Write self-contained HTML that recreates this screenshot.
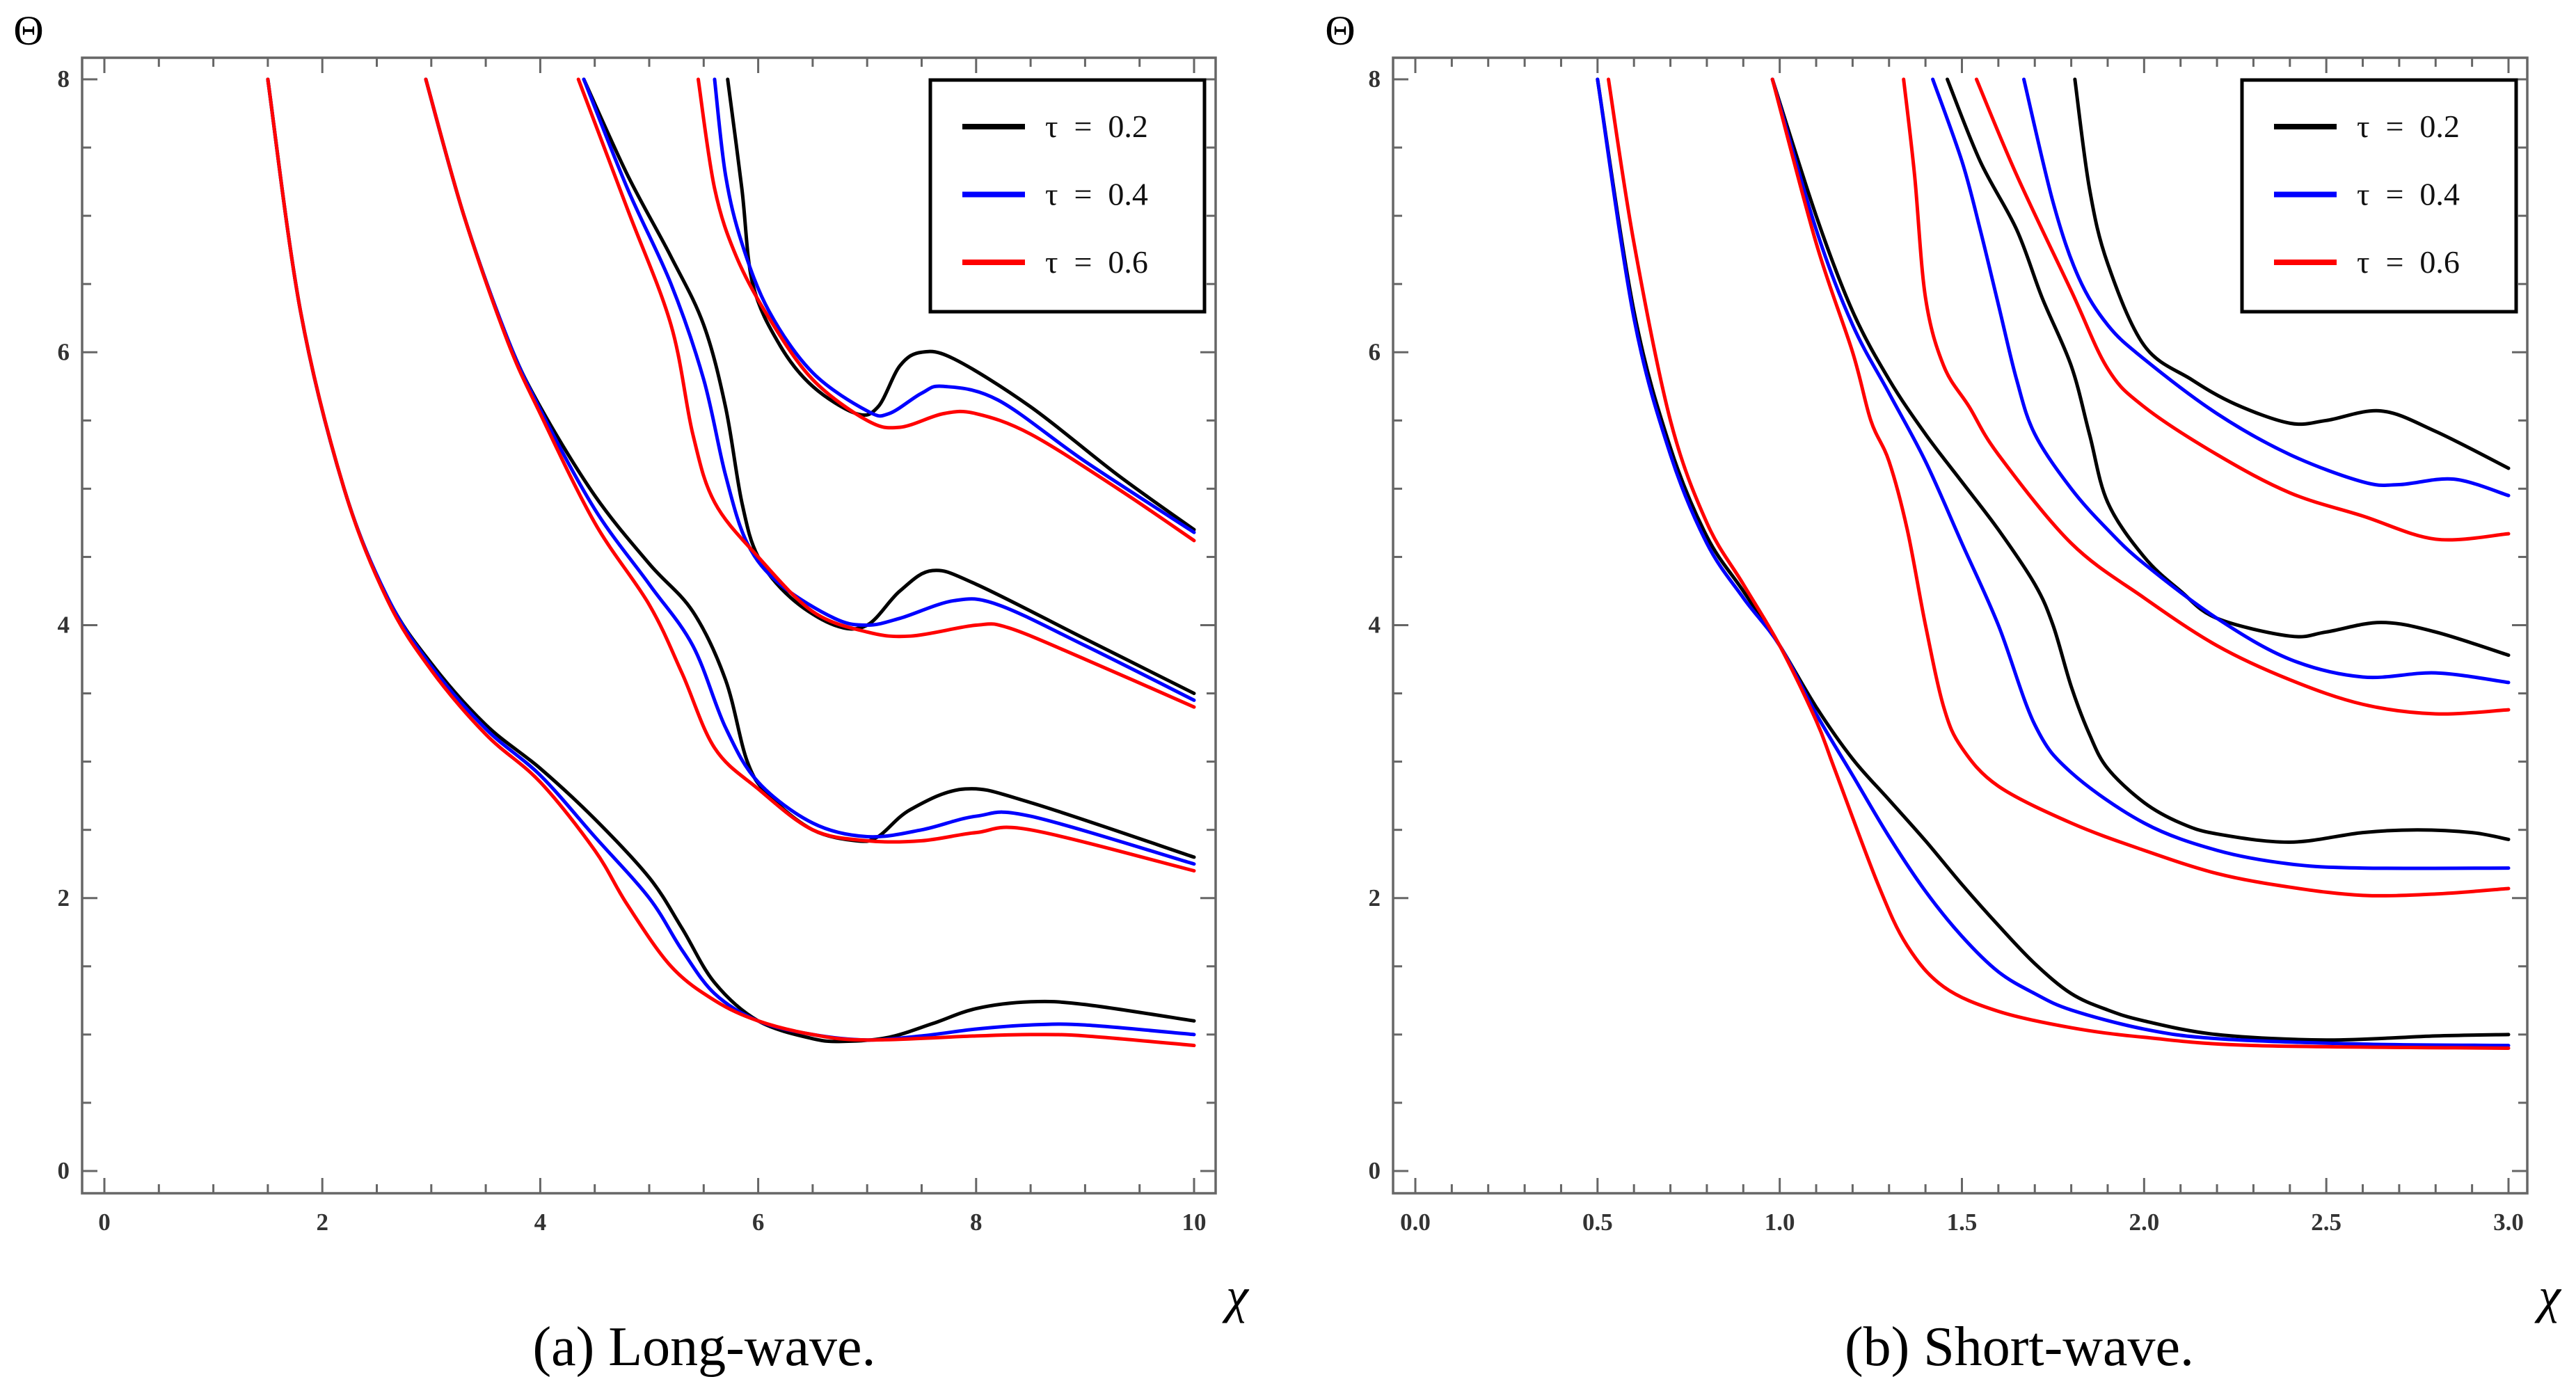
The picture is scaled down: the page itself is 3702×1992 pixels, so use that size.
<!DOCTYPE html>
<html><head><meta charset="utf-8"><style>
html,body{margin:0;padding:0;background:#fff;}
svg{display:block;}
text{font-family:"Liberation Serif","DejaVu Serif",serif;}
.pre{white-space:pre;}
</style></head><body>
<svg id="fig" width="3702" height="1992" viewBox="0 0 3702 1992" xmlns="http://www.w3.org/2000/svg"></svg>
<script>
// ---- Data (a) Long-wave ----
const tauLabels = ["τ  =  0.2","τ  =  0.4","τ  =  0.6"];
const colors = ["#000000","#0000ff","#ff0000"];
const longXTicks = [0,2,4,6,8,10];
const shortXTicks = [0,0.5,1,1.5,2,2.5,3];
const yTicks = [0,2,4,6,8];

const longF1Tau02 = [[1.5,8],[1.8,6.3],[2.2,5.0],[2.6,4.2],[3,3.72],[3.5,3.27],[4,2.95],[4.5,2.58],[5,2.15],[5.3,1.78],[5.6,1.38],[6,1.1],[6.5,0.97],[6.8,0.95],[7.2,0.98],[7.6,1.08],[8,1.19],[8.5,1.24],[9,1.22],[10,1.1]];
const longF1Tau04 = [[1.5,8],[1.8,6.3],[2.2,5.0],[2.6,4.2],[3,3.7],[3.5,3.24],[4,2.9],[4.5,2.45],[5,2.0],[5.3,1.62],[5.6,1.3],[6,1.1],[6.5,1.0],[7,0.96],[7.5,0.99],[8,1.04],[8.5,1.07],[9,1.07],[10,1.0]];
const longF1Tau06 = [[1.5,8],[1.8,6.3],[2.2,5.0],[2.6,4.18],[3,3.67],[3.5,3.2],[4,2.85],[4.5,2.35],[4.8,1.95],[5.2,1.5],[5.6,1.25],[6,1.1],[6.5,1.0],[7,0.96],[8,0.99],[8.5,1.0],[9,0.99],[10,0.92]];
const longF2Tau02 = [[2.95,8],[3.3,7.0],[3.7,6.1],[4,5.6],[4.5,4.95],[5,4.45],[5.4,4.1],[5.7,3.6],[5.9,3.0],[6.1,2.75],[6.5,2.5],[6.9,2.42],[7.1,2.45],[7.4,2.65],[7.9,2.8],[8.5,2.7],[10,2.3]];
const longF2Tau04 = [[2.95,8],[3.3,7.0],[3.7,6.1],[4,5.58],[4.5,4.85],[5,4.3],[5.4,3.85],[5.7,3.25],[6.0,2.85],[6.5,2.55],[7,2.45],[7.5,2.5],[8,2.6],[8.5,2.6],[10,2.25]];
const longF2Tau06 = [[2.95,8],[3.3,7.0],[3.7,6.08],[4,5.55],[4.5,4.75],[5,4.15],[5.3,3.65],[5.6,3.1],[6,2.8],[6.5,2.5],[7,2.42],[7.5,2.42],[8,2.48],[8.5,2.5],[10,2.2]];
const longF3Tau02 = [[4.4,8],[4.8,7.3],[5.2,6.7],[5.5,6.2],[5.7,5.6],[5.85,4.9],[6.0,4.5],[6.3,4.2],[6.7,4.0],[7.0,4.0],[7.3,4.25],[7.6,4.4],[8,4.3],[9,3.9],[10,3.5]];
const longF3Tau04 = [[4.4,8],[4.8,7.2],[5.2,6.5],[5.5,5.8],[5.7,5.1],[5.9,4.6],[6.2,4.3],[6.7,4.05],[7.0,4.0],[7.3,4.05],[7.8,4.18],[8.2,4.15],[9,3.85],[10,3.45]];
const longF3Tau06 = [[4.35,8],[4.8,7.05],[5.2,6.2],[5.4,5.4],[5.6,4.9],[6.0,4.5],[6.5,4.1],[7.0,3.95],[7.4,3.92],[8.0,4.0],[8.3,3.98],[9,3.75],[10,3.4]];
const longF4Tau02 = [[5.72,8],[5.85,7.2],[5.95,6.5],[6.2,6.05],[6.5,5.75],[6.9,5.55],[7.1,5.6],[7.3,5.9],[7.5,6.0],[7.8,5.95],[8.5,5.6],[9.3,5.1],[10,4.7]];
const longF4Tau04 = [[5.6,8],[5.7,7.3],[5.85,6.8],[6.1,6.3],[6.5,5.85],[7.0,5.57],[7.2,5.55],[7.5,5.7],[7.7,5.75],[8.2,5.65],[9,5.2],[10,4.68]];
const longF4Tau06 = [[5.45,8],[5.6,7.2],[5.8,6.7],[6.1,6.25],[6.5,5.8],[7.0,5.5],[7.3,5.45],[7.7,5.55],[8.0,5.55],[8.5,5.4],[9.3,5.0],[10,4.62]];

// ---- Data (b) Short-wave ----
const shortF1Tau02 = [[0.5,8],[0.6,6.3],[0.7,5.3],[0.8,4.65],[0.9,4.25],[1.0,3.85],[1.1,3.4],[1.2,3.02],[1.3,2.72],[1.4,2.42],[1.5,2.1],[1.6,1.8],[1.7,1.52],[1.8,1.3],[1.9,1.18],[2.0,1.1],[2.2,1.0],[2.5,0.96],[2.8,0.99],[3,1.0]];
const shortF1Tau04 = [[0.5,8],[0.6,6.25],[0.7,5.25],[0.8,4.6],[0.9,4.2],[1.0,3.85],[1.1,3.35],[1.2,2.9],[1.3,2.45],[1.4,2.05],[1.5,1.72],[1.6,1.46],[1.7,1.3],[1.8,1.18],[2.0,1.04],[2.2,0.97],[2.6,0.93],[3,0.92]];
const shortF1Tau06 = [[0.53,8],[0.6,6.8],[0.7,5.5],[0.8,4.75],[0.9,4.3],[1.0,3.85],[1.1,3.3],[1.15,2.95],[1.27,2.1],[1.35,1.65],[1.45,1.35],[1.6,1.17],[1.8,1.05],[2.0,0.98],[2.3,0.92],[3,0.9]];
const shortF2Tau02 = [[0.98,8],[1.1,7.0],[1.2,6.3],[1.3,5.8],[1.4,5.4],[1.5,5.05],[1.6,4.7],[1.7,4.3],[1.75,4.0],[1.8,3.55],[1.85,3.2],[1.9,2.95],[2.0,2.7],[2.1,2.55],[2.2,2.47],[2.4,2.41],[2.6,2.48],[2.75,2.5],[2.9,2.48],[3,2.43]];
const shortF2Tau04 = [[0.98,8],[1.1,6.9],[1.2,6.2],[1.3,5.7],[1.4,5.2],[1.5,4.6],[1.6,4.0],[1.7,3.27],[1.8,2.92],[2.0,2.55],[2.2,2.35],[2.4,2.25],[2.6,2.22],[3,2.22]];
const shortF2Tau06 = [[0.98,8],[1.1,6.8],[1.2,6.0],[1.25,5.5],[1.3,5.2],[1.35,4.7],[1.4,4.0],[1.45,3.4],[1.5,3.1],[1.6,2.82],[1.8,2.55],[2.0,2.35],[2.2,2.18],[2.4,2.08],[2.6,2.02],[2.8,2.03],[3,2.07]];
const shortF3Tau02 = [[1.46,8],[1.55,7.4],[1.65,6.9],[1.72,6.4],[1.8,5.9],[1.85,5.4],[1.9,4.9],[2.0,4.5],[2.1,4.25],[2.2,4.05],[2.4,3.92],[2.5,3.95],[2.65,4.02],[2.8,3.95],[3,3.78]];
const shortF3Tau04 = [[1.42,8],[1.5,7.4],[1.55,6.9],[1.6,6.35],[1.65,5.8],[1.7,5.4],[1.8,5.0],[1.9,4.7],[2.0,4.45],[2.2,4.05],[2.4,3.75],[2.6,3.62],[2.8,3.65],[3,3.58]];
const shortF3Tau06 = [[1.34,8],[1.37,7.3],[1.4,6.4],[1.45,5.9],[1.52,5.6],[1.6,5.25],[1.8,4.6],[2.0,4.2],[2.2,3.85],[2.4,3.6],[2.6,3.42],[2.8,3.35],[3,3.38]];
const shortF4Tau02 = [[1.81,8],[1.85,7.2],[1.9,6.65],[2.0,6.05],[2.13,5.8],[2.25,5.62],[2.4,5.48],[2.5,5.5],[2.65,5.57],[2.8,5.42],[3,5.15]];
const shortF4Tau04 = [[1.67,8],[1.75,7.1],[1.82,6.55],[1.9,6.2],[2.0,5.95],[2.2,5.55],[2.4,5.25],[2.6,5.05],[2.7,5.03],[2.85,5.07],[3,4.95]];
const shortF4Tau06 = [[1.54,8],[1.65,7.3],[1.8,6.45],[1.9,5.88],[2.0,5.6],[2.2,5.25],[2.4,4.97],[2.6,4.8],[2.8,4.63],[3,4.67]];

const longSeries = [[longF1Tau02,longF1Tau04,longF1Tau06],[longF2Tau02,longF2Tau04,longF2Tau06],[longF3Tau02,longF3Tau04,longF3Tau06],[longF4Tau02,longF4Tau04,longF4Tau06]];
const shortSeries = [[shortF1Tau02,shortF1Tau04,shortF1Tau06],[shortF2Tau02,shortF2Tau04,shortF2Tau06],[shortF3Tau02,shortF3Tau04,shortF3Tau06],[shortF4Tau02,shortF4Tau04,shortF4Tau06]];

const NS = "http://www.w3.org/2000/svg";
const svg = document.getElementById('fig');
function mk(tag, attrs, parent){
  const e = document.createElementNS(NS, tag);
  for (const k in attrs) e.setAttribute(k, attrs[k]);
  (parent||svg).appendChild(e);
  return e;
}
function smoothPath(pts){
  let d = "M"+pts[0][0].toFixed(2)+","+pts[0][1].toFixed(2);
  for (let i=0;i<pts.length-1;i++){
    const p0=pts[Math.max(0,i-1)], p1=pts[i], p2=pts[i+1], p3=pts[Math.min(pts.length-1,i+2)];
    const c1x=p1[0]+(p2[0]-p0[0])/6, c1y=p1[1]+(p2[1]-p0[1])/6;
    const c2x=p2[0]-(p3[0]-p1[0])/6, c2y=p2[1]-(p3[1]-p1[1])/6;
    d += " C"+c1x.toFixed(2)+","+c1y.toFixed(2)+" "+c2x.toFixed(2)+","+c2y.toFixed(2)+" "+p2[0].toFixed(2)+","+p2[1].toFixed(2);
  }
  return d;
}

function panel(cfg){
  const g = mk('g', {});
  
  
  const xs = v => cfg.x0 + (v - cfg.xmin)/(cfg.xmax - cfg.xmin)*(cfg.x1 - cfg.x0);
  const ys = v => cfg.y0 + (v - 0)/(8 - 0)*(cfg.y1 - cfg.y0);
  const F = cfg.frame;
  const tg = mk('g', {stroke:'#666','stroke-width':3}, g);
  
  
  const nx = Math.round((cfg.xmax-cfg.xmin)/cfg.xminor);
  for (let i=0;i<=nx;i++){
    const v = cfg.xmin + i*cfg.xminor;
    const major = Math.abs(v/cfg.xmajor - Math.round(v/cfg.xmajor))<1e-6;
    const L = major?22:13, X = xs(v);
    mk('line',{x1:X,x2:X,y1:F.b,y2:F.b-L},tg);
    mk('line',{x1:X,x2:X,y1:F.t,y2:F.t+L},tg);
  }
  for (let i=0;i<=16;i++){
    const v = i*0.5, major = i%4===0;
    const L = major?22:13, Y = ys(v);
    mk('line',{x1:F.l,x2:F.l+L,y1:Y,y2:Y},tg);
    mk('line',{x1:F.r,x2:F.r-L,y1:Y,y2:Y},tg);
  }
  const fr = mk('rect',{x:F.l,y:F.t,width:F.r-F.l,height:F.b-F.t,fill:'none',stroke:'#666','stroke-width':3.5},g);
  
  
  cfg.xticks.forEach(v=>{
    const t = mk('text',{x:xs(v),y:1768,'text-anchor':'middle','font-size':35,'font-weight':'bold',fill:'#333'},g);
    t.textContent = cfg.fmt(v);
    
    
  });
  yTicks.forEach(v=>{
    const t = mk('text',{x:F.l-18,y:ys(v)+11,'text-anchor':'end','font-size':35,'font-weight':'bold',fill:'#333'},g);
    t.textContent = String(v);
    
    
  });
  const cg = mk('g',{fill:'none','stroke-width':5,'stroke-linejoin':'round','stroke-linecap':'round'},g);
  
  
  cfg.series.forEach((fam,fi)=>{
    fam.forEach((s,ti)=>{
      const pts = s.map(p=>[xs(p[0]), ys(p[1])]);
      const p = mk('path',{d:smoothPath(pts),stroke:colors[ti]},cg);
      
      
    });
  });
  const L = cfg.legend;
  const lg = mk('g',{},g);
  
  
  mk('rect',{x:L.x,y:115,width:394,height:333,fill:'#fff',stroke:'#000','stroke-width':5},lg);
  tauLabels.forEach((lab,i)=>{
    const y = 182 + i*97.5;
    const ln = mk('line',{x1:L.x+46,x2:L.x+136,y1:y,y2:y,stroke:colors[i],'stroke-width':8},lg);
    
    
    const t = mk('text',{x:L.x+165,y:y+15,'font-size':46,fill:'#111','class':'pre'},lg);
    t.textContent = lab;
    
    
  });
  const th = mk('text',{x:cfg.thetaX,y:64,'text-anchor':'middle','font-size':60,fill:'#000'},g);
  th.textContent = 'Θ';
  
  
  const ch = mk('text',{x:cfg.chiX,y:1886,'text-anchor':'middle','font-size':72,'font-style':'italic',fill:'#000'},g);
  ch.textContent = 'χ';
  
  
  const cap = mk('text',{x:cfg.capX,y:1962,'text-anchor':'middle','font-size':80,fill:'#000'},g);
  cap.textContent = cfg.caption;
  
  
}

panel({name:'long-wave-panel', xmin:0, xmax:10, x0:150, x1:1716, y0:1683, y1:114,
  frame:{l:118,r:1747,t:83,b:1715}, xminor:0.5, xmajor:2, xticks:longXTicks,
  fmt:v=>String(v), series:longSeries, legend:{x:1337}, thetaX:41, chiX:1778, capX:1012,
  caption:'(a) Long-wave.'});
panel({name:'short-wave-panel', xmin:0, xmax:3, x0:2034, x1:3605, y0:1683, y1:114,
  frame:{l:2002,r:3632,t:83,b:1715}, xminor:0.1, xmajor:0.5, xticks:shortXTicks,
  fmt:v=>v.toFixed(1), series:shortSeries, legend:{x:3222}, thetaX:1926, chiX:3664, capX:2902,
  caption:'(b) Short-wave.'});
</script>
</body></html>
